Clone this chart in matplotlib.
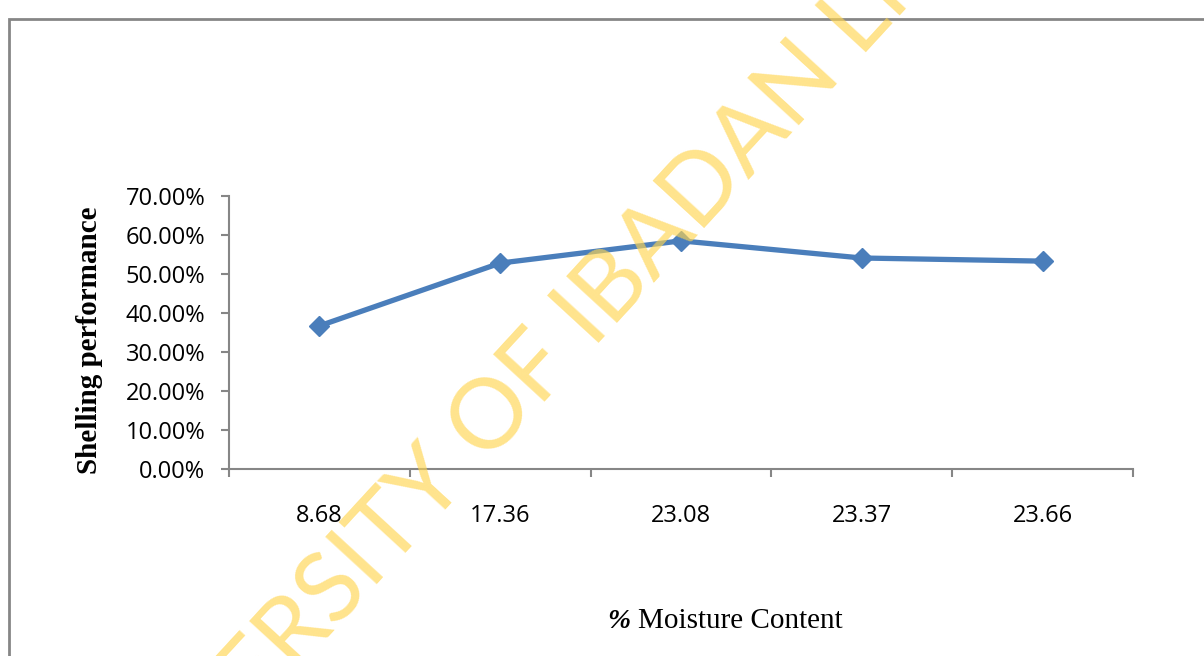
import matplotlib
matplotlib.use("Agg")
import matplotlib.pyplot as plt
from matplotlib.patches import Rectangle
from matplotlib.ticker import FuncFormatter, FixedLocator

categories = ["8.68", "17.36", "23.08", "23.37", "23.66"]
performance = [0.367, 0.528, 0.585, 0.541, 0.533]
y_ticks = [0.0, 0.1, 0.2, 0.3, 0.4, 0.5, 0.6, 0.7]

W, H = 1204, 656
fig = plt.figure(figsize=(W / 100, H / 100), dpi=100)
fig.patch.set_facecolor("white")

# outer chart border
fig.patches.append(Rectangle((9 / W, -0.05), 1.2, 1 - 19 / H + 0.05,
                             transform=fig.transFigure, fill=False,
                             edgecolor="#868686", linewidth=2.0, zorder=0))

left, right = 229 / W, 1133 / W
bottom, top = 1 - 469 / H, 1 - 196 / H
ax = fig.add_axes([left, bottom, right - left, top - bottom])
ax.set_facecolor("none")

x = list(range(len(categories)))
ax.plot(x, performance, color="#4A7EBB", linewidth=3.8, marker="D",
        markersize=10.5, markerfacecolor="#4A7EBB", markeredgecolor="#4A7EBB",
        zorder=3, clip_on=False)

ax.set_xlim(-0.5, len(categories) - 0.5)
ax.set_ylim(0, 0.7)

for s in ["top", "right"]:
    ax.spines[s].set_visible(False)
for s in ["left", "bottom"]:
    ax.spines[s].set_color("#868686")
    ax.spines[s].set_linewidth(1.5)

ax.yaxis.set_major_locator(FixedLocator(y_ticks))
ax.yaxis.set_major_formatter(FuncFormatter(lambda v, p: f"{v * 100:.2f}%"))
ax.set_xticks(x)
ax.set_xticklabels(categories)
ax.xaxis.set_minor_locator(FixedLocator([i - 0.5 for i in range(len(categories) + 1)]))
ax.tick_params(axis="x", which="major", length=0, pad=25, labelsize=17)
ax.tick_params(axis="x", which="minor", length=6, width=1.5, color="#868686", direction="out")
ax.tick_params(axis="y", which="major", length=6, width=1.5, color="#868686",
               direction="out", labelsize=17, pad=11)
for lab in ax.get_xticklabels() + ax.get_yticklabels():
    lab.set_family("Open Sans")

fig.text(90 / W, 1 - 340 / H, "Shelling performance", rotation=90, ha="center",
         va="center", family="Liberation Serif", fontweight="bold", fontsize=21)

fig.text(607 / W, 1 - 621 / H, "%", ha="left", va="center",
         family="Liberation Serif", fontsize=20, fontweight="bold", style="italic")
fig.text(638 / W, 1 - 621 / H, "Moisture Content", ha="left", va="center",
         family="Liberation Serif", fontsize=21)

# watermark
fig.text(589 / W, 1 - 313 / H, "UNIVERSITY OF IBADAN LIBRARY", rotation=47.4,
         rotation_mode="anchor", ha="center", va="center", fontsize=70,
         family="Lato", color="#FFD54F", alpha=0.65, zorder=10)

fig.savefig("out.png", dpi=100)
